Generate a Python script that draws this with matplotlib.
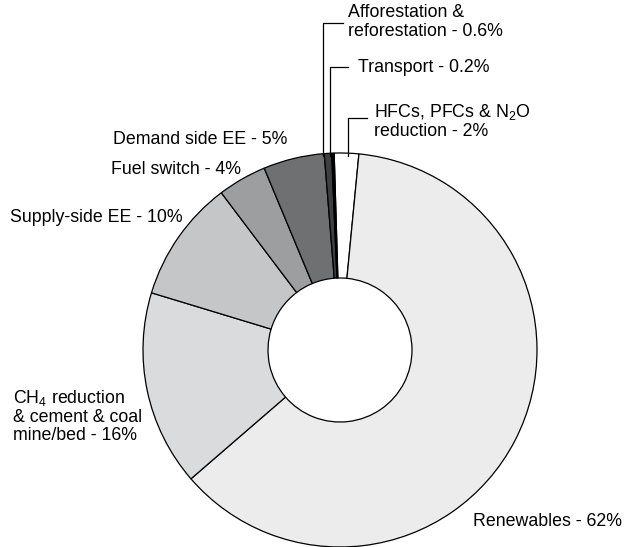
import matplotlib.pyplot as plt

plt.rcParams['font.family'] = ['Liberation Sans', 'DejaVu Sans']

sectors = ['HFCs, PFCs & N2O reduction', 'Renewables', 'CH4 reduction & cement & coal mine/bed',
           'Supply-side EE', 'Fuel switch', 'Demand side EE',
           'Afforestation & reforestation', 'Transport']
shares = [2, 62, 16, 10, 4, 5, 0.6, 0.2]
colors = ['#ffffff', '#ebeceb', '#dadbdc', '#c5c6c8', '#9d9ea0', '#6f7072', '#3e3f41', '#000000']

W, H = 625, 547
fig = plt.figure(figsize=(6.25, 5.47), dpi=100)
ax = fig.add_axes([0, 0, 1, 1])

cx, cy, r = 340, H - 350, 197
ax.pie(shares, colors=colors, startangle=91.7, counterclock=False,
       center=(cx, cy), radius=r, frame=True,
       wedgeprops=dict(width=r - 72, edgecolor='black', linewidth=0.9))
ax.set_xlim(0, W)
ax.set_ylim(0, H)
ax.set_aspect('equal')
ax.axis('off')

fs = 12.8
def y(p):
    return H - p

# labels on the left / bottom
ax.text(287, y(139), 'Demand side EE - 5%', ha='right', va='center', fontsize=fs)
ax.text(241, y(170), 'Fuel switch - 4%', ha='right', va='center', fontsize=fs)
ax.text(183, y(218), 'Supply-side EE - 10%', ha='right', va='center', fontsize=fs)
ax.text(13, y(416), 'CH$_\\mathregular{4}$ reduction\n& cement & coal\nmine/bed - 16%',
        ha='left', va='center', fontsize=fs, linespacing=1.1)
ax.text(622, y(522), 'Renewables - 62%', ha='right', va='center', fontsize=fs)

# small slices with leader lines
ax.plot([322.7, 322.7, 342.7], [y(156), y(22.7), y(22.7)], color='black', lw=0.9)
ax.text(348, y(22), 'Afforestation &\nreforestation - 0.6%', ha='left', va='center',
        fontsize=fs, linespacing=1.1)
ax.plot([330, 330, 348], [y(156), y(67), y(67)], color='black', lw=0.9)
ax.text(358, y(67), 'Transport - 0.2%', ha='left', va='center', fontsize=fs)
ax.plot([348, 348, 367], [y(156), y(118), y(118)], color='black', lw=0.9)
ax.text(374, y(121), 'HFCs, PFCs & N$_\\mathregular{2}$O\nreduction - 2%', ha='left', va='center',
        fontsize=fs, linespacing=1.1)

fig.savefig('out.png', dpi=100)
